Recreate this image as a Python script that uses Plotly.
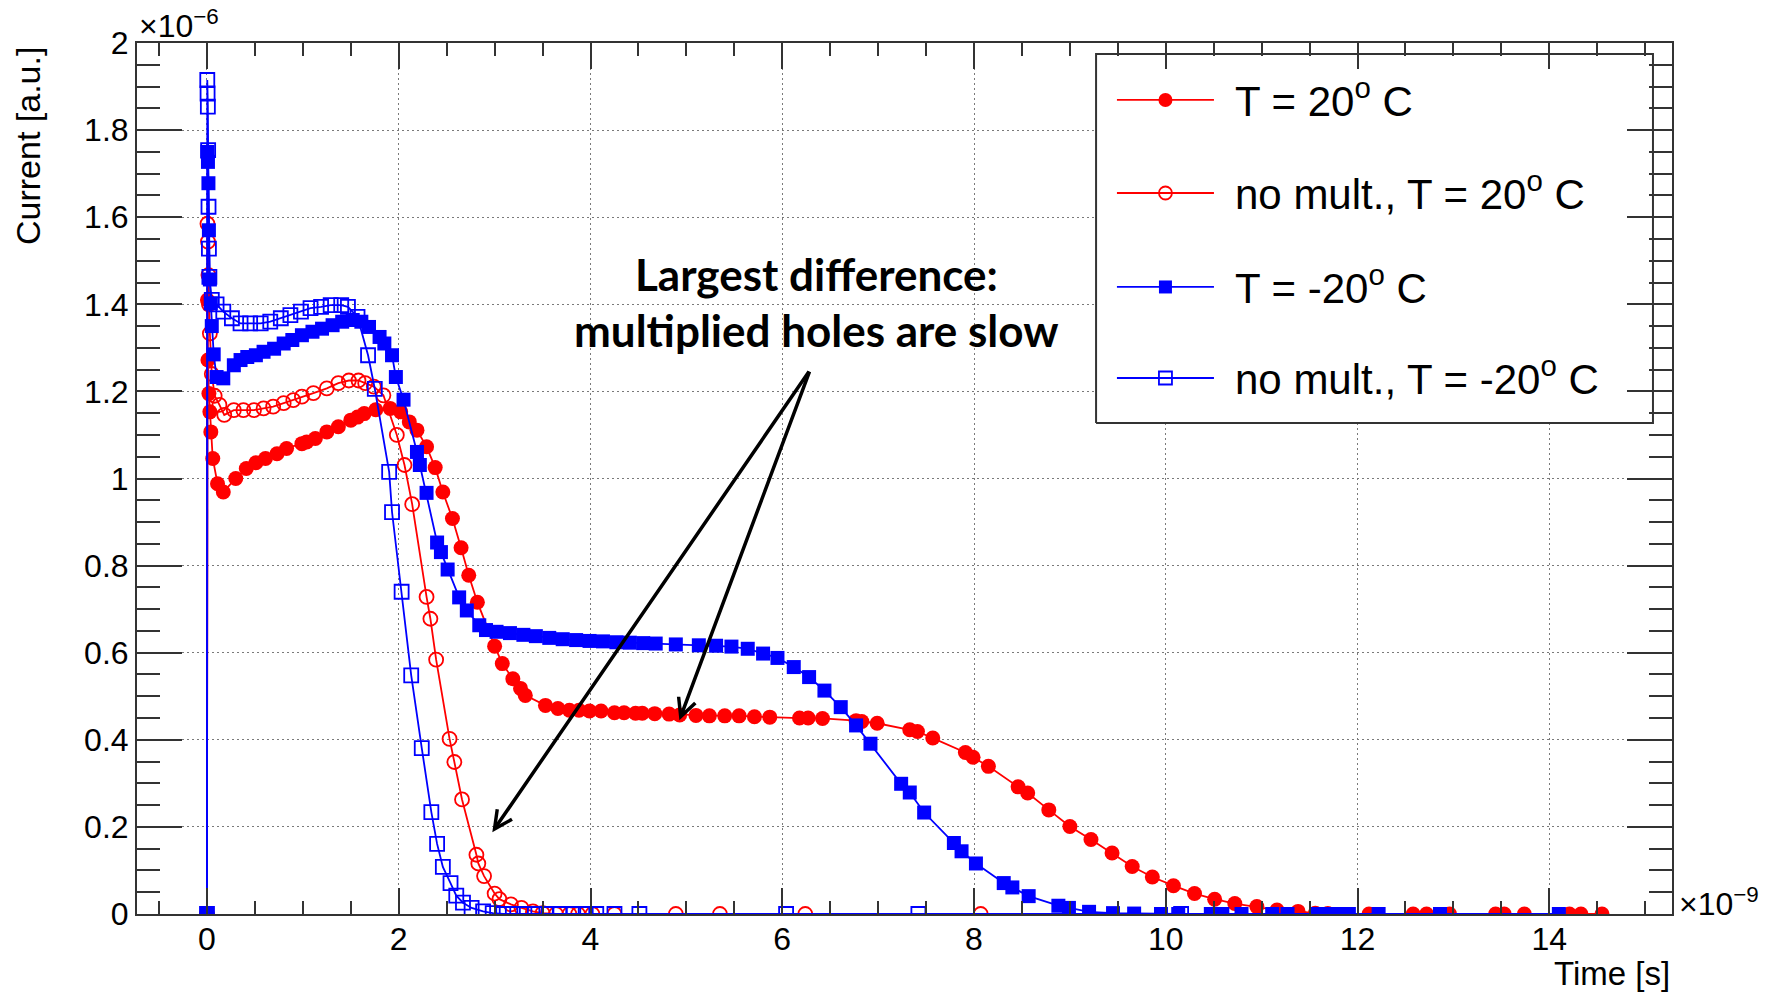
import plotly.graph_objects as go

# ---------------- data (time in 1e-9 s, current in 1e-6 a.u.) ----------------
t20_x = [0.00, 0.005, 0.01, 0.02, 0.03, 0.04, 0.06, 0.11, 0.17, 0.30, 0.41, 0.51, 0.61, 0.73, 0.83, 0.99, 1.04,
         1.13, 1.25, 1.37, 1.50, 1.57, 1.64, 1.76, 1.91, 2.02, 2.11, 2.19, 2.29, 2.38, 2.46, 2.56, 2.65, 2.73,
         2.82, 3.00, 3.08, 3.19, 3.27, 3.32, 3.53, 3.66, 3.78, 3.88, 3.99, 4.11, 4.25, 4.35, 4.47, 4.54, 4.67,
         4.82, 4.93, 5.10, 5.24, 5.40, 5.55, 5.71, 5.87, 6.18, 6.27, 6.42, 6.77, 6.83, 6.99, 7.33, 7.41, 7.57,
         7.91, 7.99, 8.15, 8.46, 8.56, 8.78, 9.00, 9.22, 9.44, 9.65, 9.86, 10.08, 10.30, 10.51, 10.72, 10.95,
         11.16, 11.38, 11.56, 11.69, 12.12, 12.58, 12.72, 12.96, 13.44, 13.53, 13.74, 14.21, 14.33, 14.55]
t20_y = [0.000, 1.410, 1.272, 1.195, 1.153, 1.107, 1.046, 0.988, 0.969, 1.000, 1.023, 1.036, 1.046, 1.057, 1.069,
         1.080, 1.084, 1.092, 1.107, 1.119, 1.134, 1.141, 1.149, 1.158, 1.161, 1.153, 1.130, 1.111, 1.073, 1.025,
         0.969, 0.908, 0.841, 0.778, 0.716, 0.615, 0.575, 0.540, 0.518, 0.502, 0.479, 0.472, 0.468, 0.468, 0.466,
         0.466, 0.462, 0.462, 0.461, 0.461, 0.460, 0.459, 0.457, 0.456, 0.455, 0.455, 0.455, 0.453, 0.452, 0.450,
         0.450, 0.449, 0.444, 0.442, 0.438, 0.423, 0.419, 0.404, 0.371, 0.360, 0.339, 0.292, 0.278, 0.239, 0.201,
         0.171, 0.140, 0.109, 0.085, 0.065, 0.047, 0.034, 0.024, 0.017, 0.009, 0.006, 0.002, 0.001, 0.000, 0.000,
         0.000, 0.000, 0.000, 0.000, 0.000, 0.000, 0.000, 0.000]

nm20_x = [0.00, 0.005, 0.01, 0.015, 0.02, 0.03, 0.05, 0.08, 0.13, 0.18, 0.28, 0.38, 0.49, 0.59, 0.69, 0.80, 0.90,
          0.99, 1.11, 1.25, 1.37, 1.48, 1.58, 1.65, 1.74, 1.84, 1.98, 2.06, 2.14, 2.29, 2.33, 2.39, 2.53, 2.58,
          2.66, 2.81, 2.83, 2.89, 3.00, 3.05, 3.17, 3.28, 3.40, 3.50, 3.64, 3.78, 3.87, 4.02, 4.25, 4.89, 5.35,
          6.24, 8.07]
nm20_y = [0.000, 1.585, 1.544, 1.467, 1.400, 1.333, 1.240, 1.190, 1.169, 1.146, 1.157, 1.157, 1.157, 1.161, 1.165,
          1.173, 1.180, 1.188, 1.196, 1.207, 1.219, 1.225, 1.225, 1.219, 1.211, 1.191, 1.100, 1.031, 0.941, 0.728,
          0.678, 0.584, 0.402, 0.349, 0.263, 0.136, 0.116, 0.087, 0.047, 0.034, 0.022, 0.014, 0.006, 0.002, 0.000,
          0.000, 0.000, 0.000, 0.000, 0.000, 0.000, 0.000, 0.000]

tm20_x = [0.00, 0.005, 0.01, 0.015, 0.02, 0.03, 0.04, 0.05, 0.07, 0.10, 0.17, 0.28, 0.35, 0.42, 0.51, 0.59, 0.70,
          0.80, 0.89, 0.99, 1.10, 1.20, 1.31, 1.41, 1.52, 1.61, 1.69, 1.80, 1.85, 1.93, 1.97, 2.05, 2.19, 2.22,
          2.29, 2.40, 2.44, 2.51, 2.63, 2.71, 2.84, 2.91, 3.02, 3.16, 3.30, 3.43, 3.57, 3.71, 3.85, 3.99, 4.13,
          4.27, 4.41, 4.55, 4.68, 4.89, 5.13, 5.31, 5.47, 5.64, 5.80, 5.95, 6.12, 6.28, 6.44, 6.61, 6.77, 6.92,
          7.24, 7.33, 7.48, 7.79, 7.87, 8.02, 8.31, 8.40, 8.57, 8.88, 8.99, 9.20, 9.45, 9.67, 9.95, 10.13, 10.47,
          10.59, 10.79, 11.11, 11.27, 11.58, 11.65, 11.77, 11.91, 12.22, 12.86, 14.10]
tm20_y = [0.000, 1.750, 1.727, 1.678, 1.570, 1.457, 1.402, 1.350, 1.285, 1.233, 1.230, 1.260, 1.272, 1.279, 1.283,
          1.291, 1.298, 1.310, 1.318, 1.329, 1.337, 1.344, 1.352, 1.360, 1.364, 1.360, 1.348, 1.325, 1.310, 1.283,
          1.233, 1.181, 1.061, 1.031, 0.967, 0.853, 0.831, 0.791, 0.727, 0.697, 0.663, 0.652, 0.648, 0.645, 0.641,
          0.638, 0.634, 0.631, 0.629, 0.627, 0.626, 0.624, 0.623, 0.622, 0.621, 0.619, 0.617, 0.616, 0.614, 0.609,
          0.598, 0.588, 0.567, 0.544, 0.513, 0.475, 0.433, 0.391, 0.299, 0.279, 0.233, 0.163, 0.144, 0.116, 0.071,
          0.061, 0.041, 0.019, 0.014, 0.005, 0.002, 0.001, 0.000, 0.000, 0.000, 0.000, 0.000, 0.000, 0.000, 0.000,
          0.000, 0.000, 0.000, 0.000, 0.000, 0.000]

nmm20_x = [0.00, 0.003, 0.006, 0.009, 0.012, 0.016, 0.02, 0.025, 0.05, 0.10, 0.17, 0.26, 0.35, 0.45, 0.56, 0.66,
           0.77, 0.87, 0.98, 1.08, 1.19, 1.29, 1.40, 1.47, 1.57, 1.68, 1.75, 1.90, 1.93, 2.03, 2.13, 2.24, 2.34,
           2.40, 2.46, 2.54, 2.60, 2.67, 2.76, 2.88, 2.98, 3.09, 3.19, 3.31, 3.42, 3.54, 3.68, 3.82, 3.95, 4.06,
           4.25, 4.51, 6.04, 7.42, 10.16]
nmm20_y = [0.000, 1.915, 1.884, 1.854, 1.754, 1.624, 1.528, 1.463, 1.410, 1.400, 1.383, 1.368, 1.356, 1.356, 1.356,
           1.360, 1.368, 1.375, 1.383, 1.391, 1.394, 1.398, 1.398, 1.394, 1.371, 1.283, 1.206, 1.015, 0.923, 0.740,
           0.548, 0.381, 0.234, 0.161, 0.108, 0.071, 0.042, 0.026, 0.014, 0.006, 0.002, 0.000, 0.000, 0.000, 0.000,
           0.000, 0.000, 0.000, 0.000, 0.000, 0.000, 0.000, 0.000, 0.000, 0.000]

legend_labels = ["T = 20<sup>o</sup> C", "no mult., T = 20<sup>o</sup> C",
                 "T = -20<sup>o</sup> C", "no mult., T = -20<sup>o</sup> C"]

x_tick_vals = [0, 2, 4, 6, 8, 10, 12, 14]
x_tick_text = ["0", "2", "4", "6", "8", "10", "12", "14"]
y_tick_vals = [0, 0.2, 0.4, 0.6, 0.8, 1.0, 1.2, 1.4, 1.6, 1.8, 2.0]
y_tick_text = ["0", "0.2", "0.4", "0.6", "0.8", "1", "1.2", "1.4", "1.6", "1.8", "2"]

note_lines = ["Largest difference:", "multiplied holes are slow"]
arrow_tail = (6.29, 1.249)
arrow_heads = [(2.976, 0.188), (4.927, 0.445)]

# ---------------- styles ----------------
RED = "#ff0000"
BLUE = "#0000ff"
FONT = "Liberation Sans, Arial"
styles = [
    dict(x=t20_x, y=t20_y, color=RED, symbol="circle", size=15),
    dict(x=nm20_x, y=nm20_y, color=RED, symbol="circle-open", size=14),
    dict(x=tm20_x, y=tm20_y, color=BLUE, symbol="square", size=14),
    dict(x=nmm20_x, y=nmm20_y, color=BLUE, symbol="square-open", size=14),
]

fig = go.Figure()
for s in styles:
    open_sym = s["symbol"].endswith("open")
    fig.add_trace(go.Scatter(
        x=s["x"], y=s["y"], mode="lines+markers",
        line=dict(color=s["color"], width=1.8),
        marker=dict(symbol=s["symbol"], size=s["size"], color=s["color"],
                    line=dict(color=s["color"], width=1.8 if open_sym else 0)),
        showlegend=False, hoverinfo="skip"))

# ---------------- manual legend (overlay axes 0..1 over plot area) ----------------
box_l, box_r, box_b, box_t = 0.6248, 0.9876, 0.5637, 0.9874
fig.add_trace(go.Scatter(x=[box_l, box_r, box_r, box_l, box_l], y=[box_b, box_b, box_t, box_t, box_b],
                         mode="lines", fill="toself", fillcolor="white",
                         line=dict(color="#333333", width=2), xaxis="x2", yaxis="y2",
                         showlegend=False, hoverinfo="skip"))
entry_y = [0.9346, 0.8278, 0.7199, 0.6154]
ln_l, ln_r = 0.6384, 0.7016
for s, ey in zip(styles, entry_y):
    open_sym = s["symbol"].endswith("open")
    fig.add_trace(go.Scatter(x=[ln_l, ln_r], y=[ey, ey], mode="lines",
                             line=dict(color=s["color"], width=1.8), xaxis="x2", yaxis="y2",
                             showlegend=False, hoverinfo="skip"))
    fig.add_trace(go.Scatter(x=[(ln_l + ln_r) / 2], y=[ey], mode="markers",
                             marker=dict(symbol=s["symbol"], size=s["size"] - 1, color=s["color"],
                                         line=dict(color=s["color"], width=1.8 if open_sym else 0)),
                             xaxis="x2", yaxis="y2", showlegend=False, hoverinfo="skip"))

annotations = []
for lab, ey in zip(legend_labels, entry_y):
    annotations.append(dict(text=lab, xref="paper", yref="paper", x=0.7137, y=ey + 0.002,
                            xanchor="left", yanchor="middle", showarrow=False,
                            font=dict(family=FONT, size=42, color="black")))

# comment text and arrows
for txt, yy in zip(note_lines, [1.47, 1.341]):
    annotations.append(dict(text="<b>%s</b>" % txt, xref="x", yref="y", x=6.353, y=yy,
                            xanchor="center", yanchor="middle", showarrow=False,
                            font=dict(family="Lato, Open Sans", size=44, color="black")))
for hx, hy in arrow_heads:
    annotations.append(dict(text="", xref="x", yref="y", x=hx, y=hy, axref="x", ayref="y",
                            ax=arrow_tail[0], ay=arrow_tail[1], showarrow=True, arrowhead=5,
                            arrowsize=1, arrowwidth=3.5, arrowcolor="black", standoff=0, startstandoff=0))

# axis titles / multipliers
annotations.append(dict(text="Current [a.u.]", xref="paper", yref="paper", x=-0.071, y=0.9977,
                        xanchor="center", yanchor="top", textangle=-90, showarrow=False,
                        font=dict(family=FONT, size=34, color="black")))
annotations.append(dict(text="Time [s]", xref="paper", yref="paper", x=1.0, y=-0.0915,
                        xanchor="right", yanchor="bottom", showarrow=False,
                        font=dict(family=FONT, size=33, color="black")))
annotations.append(dict(text="×10<sup>−6</sup>", xref="paper", yref="paper", x=0.0, y=1.0,
                        xanchor="left", yanchor="bottom", yshift=-3, showarrow=False,
                        font=dict(family=FONT, size=32, color="black")))
annotations.append(dict(text="×10<sup>−9</sup>", xref="paper", yref="paper", x=1.0033, y=0.0,
                        xanchor="left", yanchor="bottom", yshift=-10, showarrow=False,
                        font=dict(family=FONT, size=32, color="black")))

AX = "#333333"
common = dict(showline=True, linecolor=AX, linewidth=2, mirror="ticks", ticks="inside",
              tickcolor=AX, tickwidth=1.5, showgrid=True, gridcolor="#7a7a7a", gridwidth=1,
              griddash="2px,3px", zeroline=False,
              tickfont=dict(family=FONT, size=32, color="black"))

fig.update_layout(
    width=1773, height=994,
    margin=dict(l=137, r=101, t=43, b=80),
    paper_bgcolor="white", plot_bgcolor="white",
    showlegend=False,
    xaxis=dict(range=[-0.73, 15.28], tickmode="array", tickvals=x_tick_vals, ticktext=x_tick_text,
               ticklen=26, ticklabelstandoff=-4,
               minor=dict(tickmode="linear", tick0=0, dtick=0.5, ticks="inside", ticklen=13,
                          tickcolor=AX, tickwidth=1.5, showgrid=False),
               **common),
    yaxis=dict(range=[0, 2], tickmode="array", tickvals=y_tick_vals, ticktext=y_tick_text,
               ticklen=45, ticklabelstandoff=0,
               minor=dict(tickmode="linear", tick0=0, dtick=0.05, ticks="inside", ticklen=23,
                          tickcolor=AX, tickwidth=1.5, showgrid=False),
               **common),
    xaxis2=dict(overlaying="x", range=[0, 1], visible=False, anchor="y2", fixedrange=True),
    yaxis2=dict(overlaying="y", range=[0, 1], visible=False, anchor="x2", fixedrange=True),
    annotations=annotations,
)

fig.write_html("out.html")
